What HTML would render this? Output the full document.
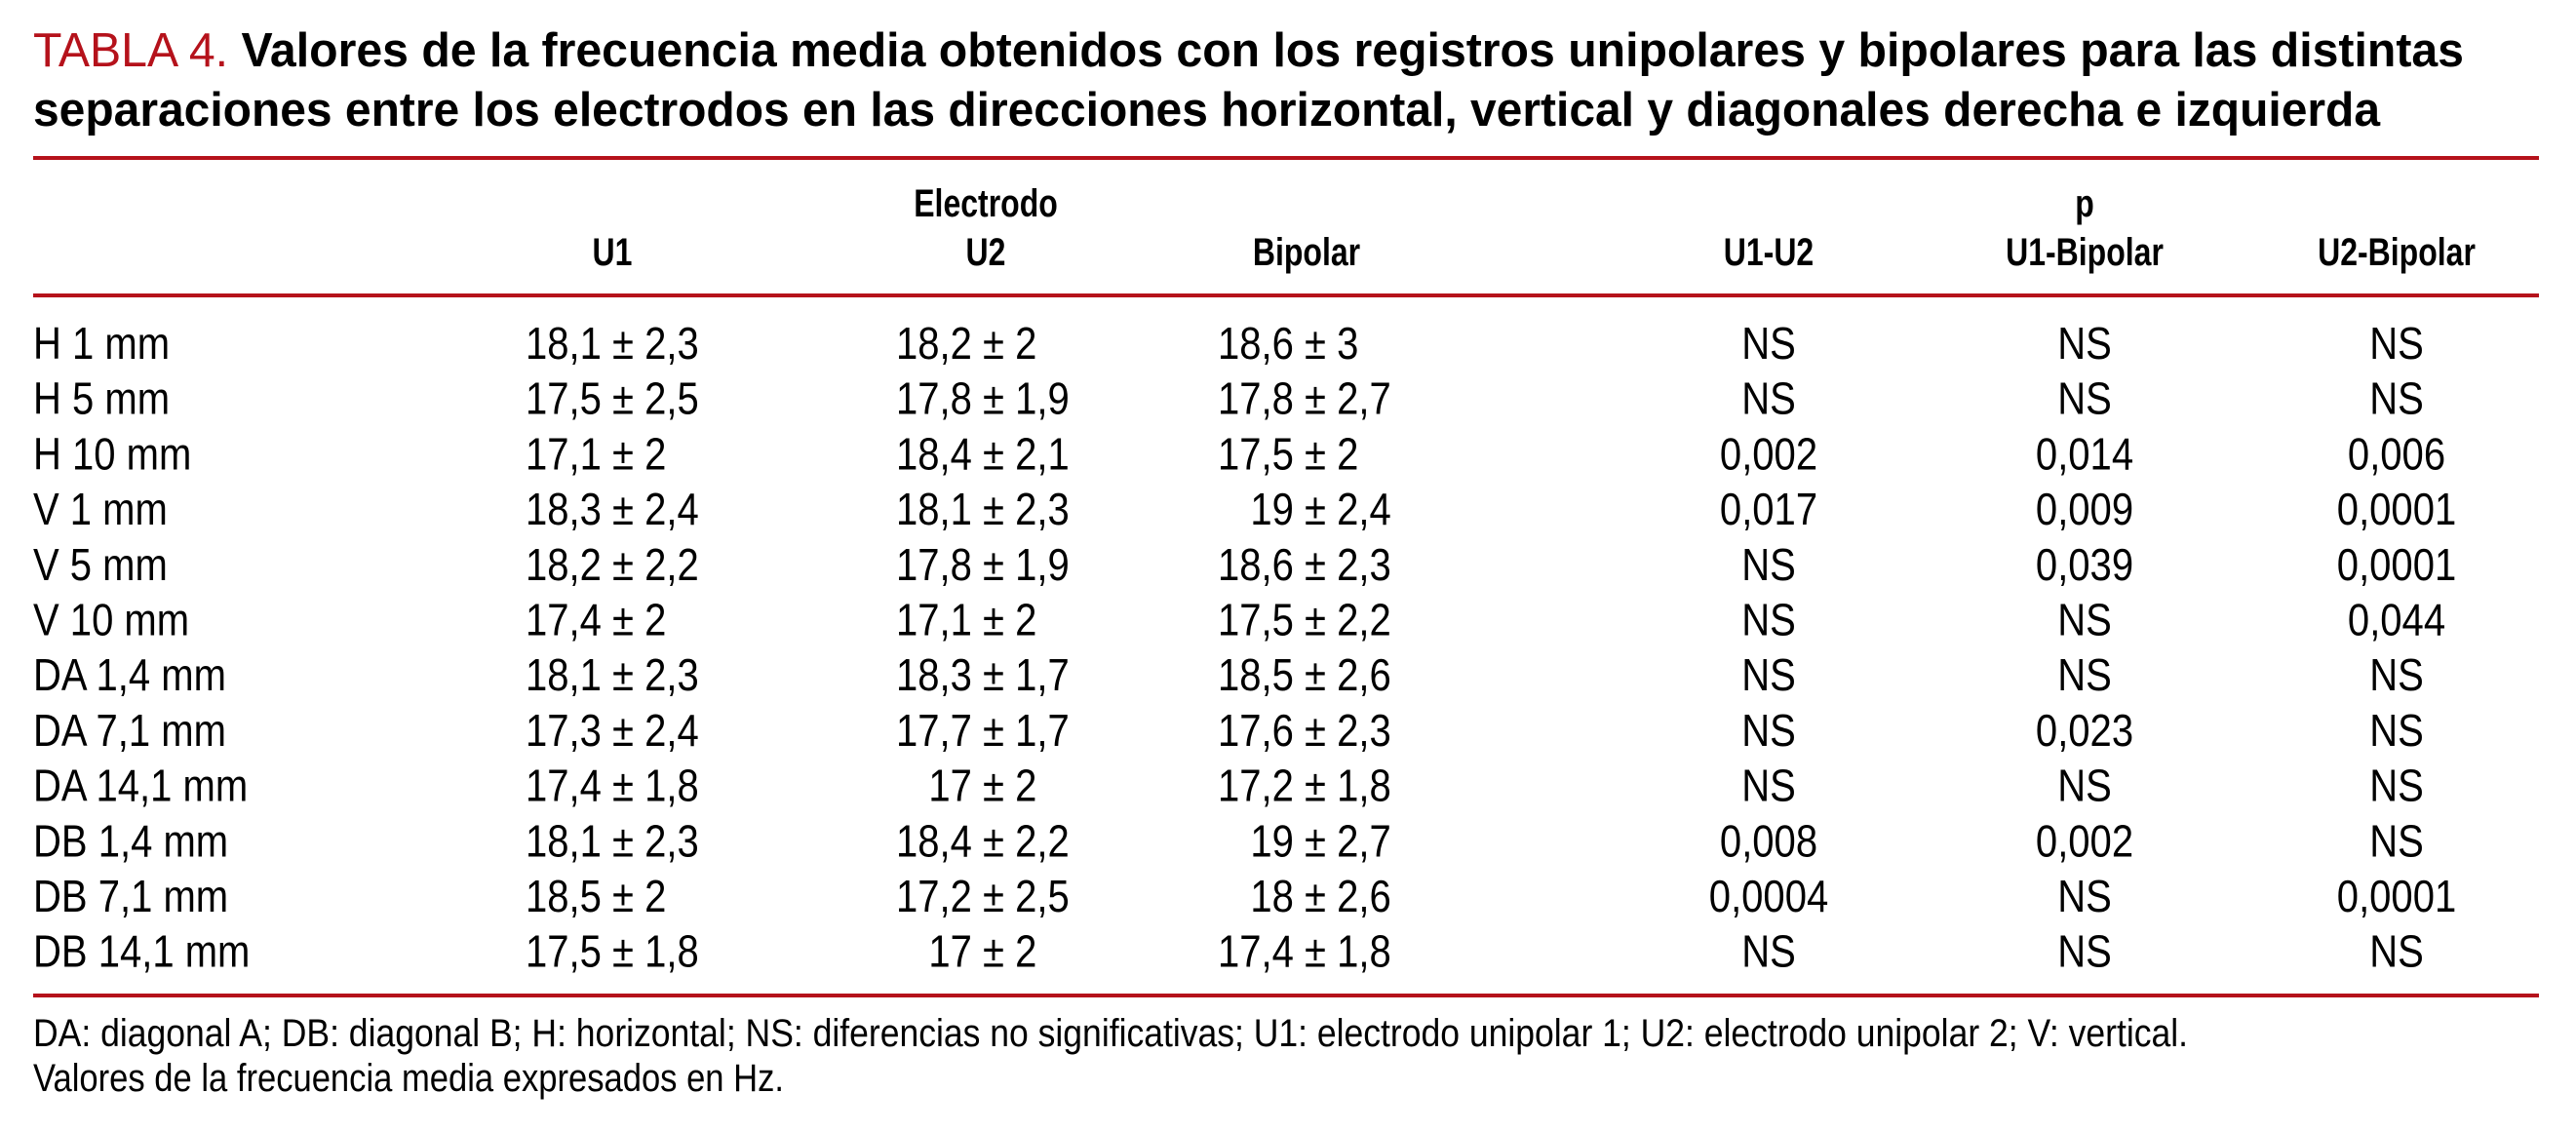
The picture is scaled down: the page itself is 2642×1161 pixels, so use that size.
<!DOCTYPE html>
<html><head><meta charset="utf-8"><style>
html,body{margin:0;padding:0;background:#fff}
svg{display:block}
text{font-family:"Liberation Sans",sans-serif;fill:#000}
</style></head><body>
<svg id="s" width="2642" height="1161" viewBox="0 0 2642 1161" xmlns="http://www.w3.org/2000/svg">
<text x="34" y="68" font-size="49" textLength="2493" lengthAdjust="spacingAndGlyphs"><tspan fill="#b5121b" style="fill:#b5121b">TABLA 4.</tspan><tspan font-weight="bold"> Valores de la frecuencia media obtenidos con los registros unipolares y bipolares para las distintas</tspan></text>
<text x="34" y="129" font-size="49" font-weight="bold" textLength="2407" lengthAdjust="spacingAndGlyphs">separaciones entre los electrodos en las direcciones horizontal, vertical y diagonales derecha e izquierda</text>
<rect x="34" y="160" width="2570" height="4" fill="#b5121b"/>
<rect x="34" y="301" width="2570" height="4" fill="#b5121b"/>
<rect x="34" y="1019" width="2570" height="4" fill="#b5121b"/>
<text x="34" y="1073" font-size="40" textLength="2210" lengthAdjust="spacingAndGlyphs">DA: diagonal A; DB: diagonal B; H: horizontal; NS: diferencias no significativas; U1: electrodo unipolar 1; U2: electrodo unipolar 2; V: vertical.</text>
<text x="34" y="1119" font-size="40" textLength="770" lengthAdjust="spacingAndGlyphs">Valores de la frecuencia media expresados en Hz.</text>
</svg>
<script>
const rowLabels=["H 1 mm","H 5 mm","H 10 mm","V 1 mm","V 5 mm","V 10 mm","DA 1,4 mm","DA 7,1 mm","DA 14,1 mm","DB 1,4 mm","DB 7,1 mm","DB 14,1 mm"];
const u1Mean=["18,1","17,5","17,1","18,3","18,2","17,4","18,1","17,3","17,4","18,1","18,5","17,5"];
const u1Sd=["2,3","2,5","2","2,4","2,2","2","2,3","2,4","1,8","2,3","2","1,8"];
const u2Mean=["18,2","17,8","18,4","18,1","17,8","17,1","18,3","17,7","17","18,4","17,2","17"];
const u2Sd=["2","1,9","2,1","2,3","1,9","2","1,7","1,7","2","2,2","2,5","2"];
const bipMean=["18,6","17,8","17,5","19","18,6","17,5","18,5","17,6","17,2","19","18","17,4"];
const bipSd=["3","2,7","2","2,4","2,3","2,2","2,6","2,3","1,8","2,7","2,6","1,8"];
const pU1U2=["NS","NS","0,002","0,017","NS","NS","NS","NS","NS","0,008","0,0004","NS"];
const pU1Bip=["NS","NS","0,014","0,009","0,039","NS","NS","0,023","NS","0,002","NS","NS"];
const pU2Bip=["NS","NS","0,006","0,0001","0,0001","0,044","NS","NS","NS","NS","0,0001","NS"];

const svg=document.getElementById('s');
const NS='http://www.w3.org/2000/svg';
function txt(str,x,y,size,sx,anchor,bold,name){
  const g=document.createElementNS(NS,'g');
  g.setAttribute('transform','translate('+x+','+y+') scale('+sx+',1)');
  const t=document.createElementNS(NS,'text');
  t.setAttribute('x',0);t.setAttribute('y',0);
  t.setAttribute('font-size',size);
  t.setAttribute('text-anchor',anchor);
  if(bold)t.setAttribute('font-weight','bold');
  t.textContent=str;
  
  
  g.appendChild(t);svg.appendChild(g);return t;
}
const HS=0.8,DS=0.87;
txt("Electrodo",1011,222,40,HS,'middle',true,'electrodo-group-header');
txt("p",2138,222,40,HS,'middle',true,'p-group-header');
txt("U1",628,272,40,HS,'middle',true,'u1-column-header');
txt("U2",1011,272,40,HS,'middle',true,'u2-column-header');
txt("Bipolar",1340,272,40,HS,'middle',true,'bipolar-column-header');
txt("U1-U2",1814,272,40,HS,'middle',true,'p-u1-u2-column-header');
txt("U1-Bipolar",2138,272,40,HS,'middle',true,'p-u1-bipolar-column-header');
txt("U2-Bipolar",2458,272,40,HS,'middle',true,'p-u2-bipolar-column-header');

const pitch=56.7, y0=368, spaceW=0.278*46*DS;
function pm(mean,sd,pmx,y,name){
  txt(mean,pmx-spaceW,y,46,DS,'end',false,name+'-mean');
  txt("± "+sd,pmx,y,46,DS,'start',false,name+'-sd');
}
rowLabels.forEach((lab,i)=>{
  const y=y0+pitch*i;
  txt(lab,34,y,46,DS,'start',false,'row-label');
  pm(u1Mean[i],u1Sd[i],628,y,'u1-value');
  pm(u2Mean[i],u2Sd[i],1008,y,'u2-value');
  pm(bipMean[i],bipSd[i],1338,y,'bipolar-value');
  txt(pU1U2[i],1814,y,46,DS,'middle',false,'p-u1-u2-value');
  txt(pU1Bip[i],2138,y,46,DS,'middle',false,'p-u1-bipolar-value');
  txt(pU2Bip[i],2458,y,46,DS,'middle',false,'p-u2-bipolar-value');
});
</script>
</body></html>
